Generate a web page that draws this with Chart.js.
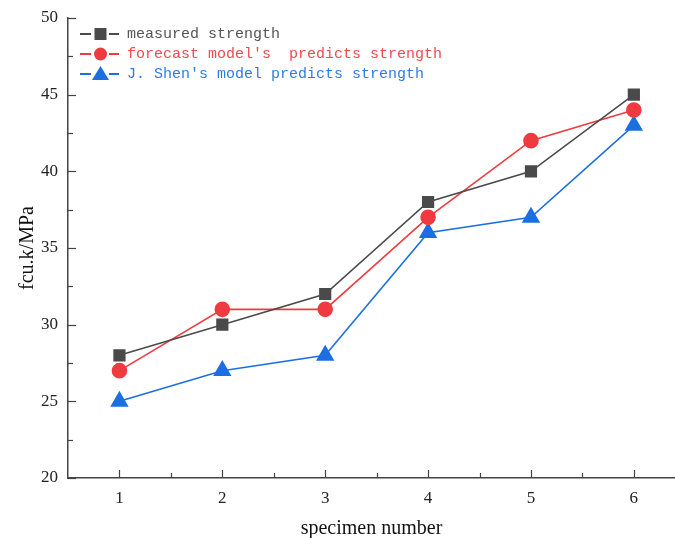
<!DOCTYPE html>
<html><head><meta charset="utf-8">
<script src="https://cdn.jsdelivr.net/npm/chart.js@4"></script>
<style>html,body{margin:0;padding:0;background:#fff}#wrap{width:675px;height:538px}</style>
</head><body><div id="wrap"><canvas id="c" width="675" height="538"></canvas></div>
<script>
const specimens = [1, 2, 3, 4, 5, 6];
const measured = [28, 30, 32, 38, 40, 45];
const forecast = [27, 31, 31, 37, 42, 44];
const shen = [25, 27, 28, 36, 37, 43];
const yTicks = [20, 25, 30, 35, 40, 45, 50];
const seriesNames = ["measured strength", "forecast model's  predicts strength", "J. Shen's model predicts strength"];
const colors = ["#4a4a4a", "#ef3b40", "#1c6fe0"];
const textColors = ["#555555", "#f04a4e", "#2f7be6"];
const styles = ["rect", "circle", "triangle"];

const toPts = arr => arr.map((v, i) => ({x: specimens[i], y: v}));

const inwardTicks = {
  id: 'inwardTicks',
  afterDraw(chart) {
    const ctx = chart.ctx, x = chart.scales.x, y = chart.scales.y;
    const a = chart.chartArea;
    ctx.save();
    ctx.strokeStyle = '#444'; ctx.lineWidth = 1.2;
    for (let v = 20; v <= 50; v += 2.5) {
      const p = Math.round(y.getPixelForValue(v)) + 0.5;
      const len = (v % 5 === 0) ? 8 : 5;
      ctx.beginPath(); ctx.moveTo(a.left, p); ctx.lineTo(a.left + len, p); ctx.stroke();
    }
    for (let v = 1; v <= 6.01; v += 0.5) {
      const p = Math.round(x.getPixelForValue(v)) + 0.5;
      const len = (v % 1 === 0) ? 8 : 5;
      ctx.beginPath(); ctx.moveTo(p, a.bottom); ctx.lineTo(p, a.bottom - len); ctx.stroke();
    }
    // legend
    ctx.font = '15px "Liberation Mono", "DejaVu Sans Mono", monospace';
    ctx.textBaseline = 'middle';
    const rows = [34, 54, 74];
    for (let i = 0; i < 3; i++) {
      const yy = rows[i];
      ctx.strokeStyle = colors[i]; ctx.lineWidth = 1.8;
      ctx.beginPath(); ctx.moveTo(80, yy); ctx.lineTo(91, yy); ctx.moveTo(109, yy); ctx.lineTo(119, yy); ctx.stroke();
      ctx.fillStyle = colors[i];
      ctx.beginPath();
      if (i === 0) ctx.rect(94.5, yy - 6, 12, 12);
      else if (i === 1) ctx.arc(100.5, yy, 6.5, 0, Math.PI * 2);
      else { ctx.moveTo(100.5, yy - 8); ctx.lineTo(109, yy + 6); ctx.lineTo(92, yy + 6); ctx.closePath(); }
      ctx.fill();
      ctx.fillStyle = textColors[i];
      ctx.fillText(seriesNames[i], 127, yy);
    }
    ctx.restore();
  }
};

const mk = (label, data, i, r) => ({
  label, data: toPts(data), borderColor: colors[i], backgroundColor: colors[i],
  pointBackgroundColor: colors[i], pointBorderColor: colors[i], borderWidth: 1.6,
  pointStyle: styles[i], pointRadius: r, pointHoverRadius: r, tension: 0
});

new Chart(document.getElementById('c'), {
  type: 'line',
  data: { datasets: [
    mk(seriesNames[0], measured, 0, 7.5),
    mk(seriesNames[1], forecast, 1, 7),
    mk(seriesNames[2], shen, 2, 9)
  ]},
  options: {
    responsive: false, animation: false, devicePixelRatio: 1,
    layout: { autoPadding: false, padding: { top: 18, right: 0, left: 0, bottom: 0 } },
    plugins: { legend: { display: false }, tooltip: { enabled: false } },
    scales: {
      x: {
        type: 'linear', min: 0.5, max: 6.4,
        grid: { display: false },
        border: { display: true, color: '#444', width: 1.5 },
        ticks: { includeBounds: false, color: '#222', padding: 2,
          font: { family: '"Liberation Serif", serif', size: 17 } },
        afterBuildTicks: s => { s.ticks = specimens.map(v => ({value: v})); },
        afterFit: s => { s.height = 60; s.paddingRight = 0; s.paddingLeft = 0; },
        title: { display: true, text: 'specimen number', color: '#111', padding: {top: 0, bottom: -3},
          font: { family: '"Liberation Serif", serif', size: 20 } }
      },
      y: {
        min: 20, max: 50,
        grid: { display: false },
        border: { display: true, color: '#444', width: 1.5 },
        ticks: { color: '#222', padding: 2,
          font: { family: '"Liberation Serif", serif', size: 17 } },
        afterBuildTicks: s => { s.ticks = yTicks.map(v => ({value: v})); },
        afterFit: s => { s.width = 68; },
        title: { display: true, text: 'fcu.k/MPa', color: '#111', padding: {top: 16, bottom: 0},
          font: { family: '"Liberation Serif", serif', size: 20 } }
      }
    }
  },
  plugins: [inwardTicks]
});
</script></body></html>
